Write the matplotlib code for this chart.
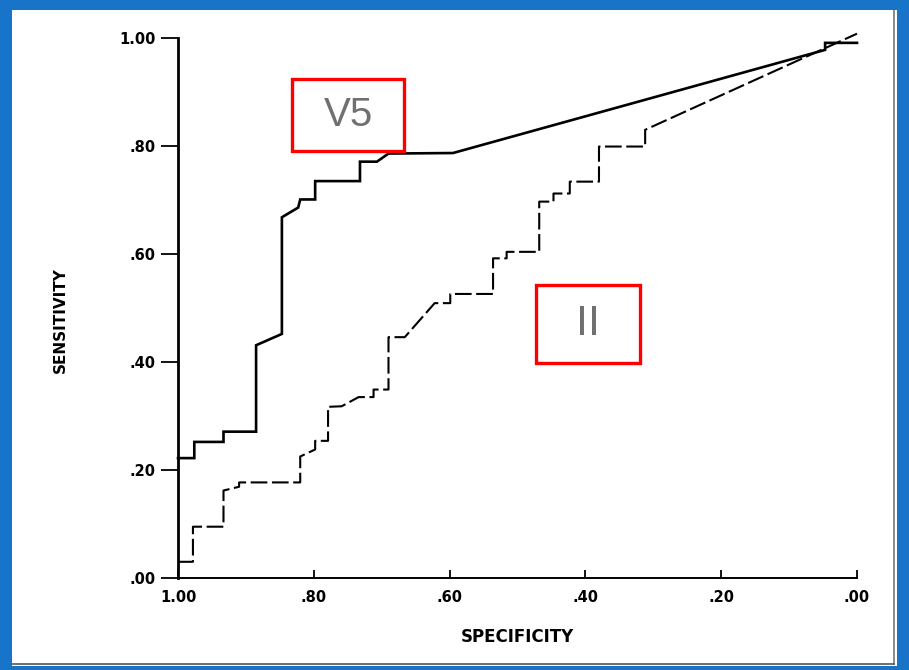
import matplotlib.pyplot as plt
from matplotlib.patches import Rectangle
from matplotlib.lines import Line2D

# ROC curves (specificity, sensitivity)
v5_spec = [1.000, 0.976, 0.976, 0.933, 0.933, 0.885, 0.885, 0.847, 0.847, 0.823,
           0.820, 0.798, 0.798, 0.732, 0.732, 0.707, 0.690, 0.595, 0.047, 0.047, 0.000]
v5_sens = [0.222, 0.222, 0.252, 0.252, 0.271, 0.271, 0.431, 0.452, 0.668, 0.686,
           0.701, 0.701, 0.735, 0.735, 0.771, 0.771, 0.786, 0.787, 0.978, 0.991, 0.991]

ii_spec = [1.000, 0.978, 0.978, 0.933, 0.933, 0.910, 0.910, 0.820, 0.820, 0.798,
           0.798, 0.779, 0.779, 0.759, 0.734, 0.712, 0.712, 0.690, 0.690, 0.666,
           0.622, 0.599, 0.599, 0.536, 0.536, 0.516, 0.516, 0.468, 0.468, 0.447,
           0.447, 0.423, 0.423, 0.380, 0.380, 0.312, 0.312, 0.000]
ii_sens = [0.030, 0.030, 0.095, 0.095, 0.162, 0.169, 0.177, 0.177, 0.225, 0.238,
           0.254, 0.254, 0.317, 0.318, 0.335, 0.335, 0.349, 0.349, 0.446, 0.446,
           0.509, 0.509, 0.526, 0.526, 0.592, 0.592, 0.604, 0.604, 0.697, 0.697,
           0.712, 0.712, 0.734, 0.734, 0.799, 0.799, 0.830, 1.008]

ticks = [0.0, 0.2, 0.4, 0.6, 0.8, 1.0]
tick_labels = [".00", ".20", ".40", ".60", ".80", "1.00"]

W, H = 909, 670
fig = plt.figure(figsize=(W / 100, H / 100), dpi=100)
fig.patch.set_facecolor("white")

ax = fig.add_axes([178 / W, (H - 578) / H, 679 / W, 540 / H])
ax.plot(v5_spec, v5_sens, color="black", lw=1.9, clip_on=False,
        solid_joinstyle="miter", zorder=7)
dashed, = ax.plot(ii_spec, ii_sens, color="black", lw=1.5, clip_on=False)
dashed.set_dashes((8, 2.2))

ax.set_xlim(1.0, 0.0)
ax.set_ylim(0.0, 1.0)
ax.spines["top"].set_visible(False)
ax.spines["right"].set_visible(False)
ax.spines["left"].set_linewidth(2.0)
ax.spines["bottom"].set_linewidth(1.4)

font = dict(family="DejaVu Sans", weight="bold", size=10.5)
ax.set_yticks(ticks)
ax.set_yticklabels(tick_labels, fontdict=font)
ax.set_xticks(ticks)
ax.set_xticklabels(tick_labels, fontdict=font)
ax.tick_params(axis="y", direction="out", length=12, width=1.3, pad=4)
ax.tick_params(axis="x", direction="in", length=6, width=1.3, pad=9)

fig.text(517 / W, 1 - 637 / H, "SPECIFICITY", ha="center", va="center",
         family="DejaVu Sans", weight="bold", fontsize=12)
fig.text(60 / W, 1 - 320 / H, "SENSITIVITY", ha="center", va="center",
         rotation=90, family="DejaVu Sans", weight="bold", fontsize=11)

# red annotation boxes
def label_box(x0, y0, x1, y1, text, size):
    fig.patches.append(Rectangle((x0 / W, 1 - y1 / H), (x1 - x0) / W, (y1 - y0) / H,
                                 transform=fig.transFigure, facecolor="white",
                                 edgecolor="#ff0000", lw=2.4, zorder=5))
    fig.text((x0 + x1) / 2 / W, 1 - (y0 + y1) / 2 / H, text, ha="center",
             va="center", color="#707070", fontsize=size,
             family="Liberation Sans", zorder=6)

label_box(292, 79, 404, 151, "V5", 29)
label_box(536, 285, 640, 363, "II", 31)

# scan edges and blue frame
fig.lines.append(Line2D([894 / W, 894 / W], [1 - 10 / H, 1 - 664 / H],
                        transform=fig.transFigure, color="#777777", lw=1.2))
fig.lines.append(Line2D([12 / W, 894 / W], [1 - 664 / H, 1 - 664 / H],
                        transform=fig.transFigure, color="#555555", lw=1.2))
blue = "#1874c8"
for x, y, w, h in [(0, 0, 909, 10), (0, 0, 12, 670), (897, 0, 12, 670), (0, 666, 909, 4)]:
    fig.patches.append(Rectangle((x / W, 1 - (y + h) / H), w / W, h / H,
                                 transform=fig.transFigure, facecolor=blue,
                                 edgecolor="none", zorder=10))

fig.savefig("out.png", dpi=100)
